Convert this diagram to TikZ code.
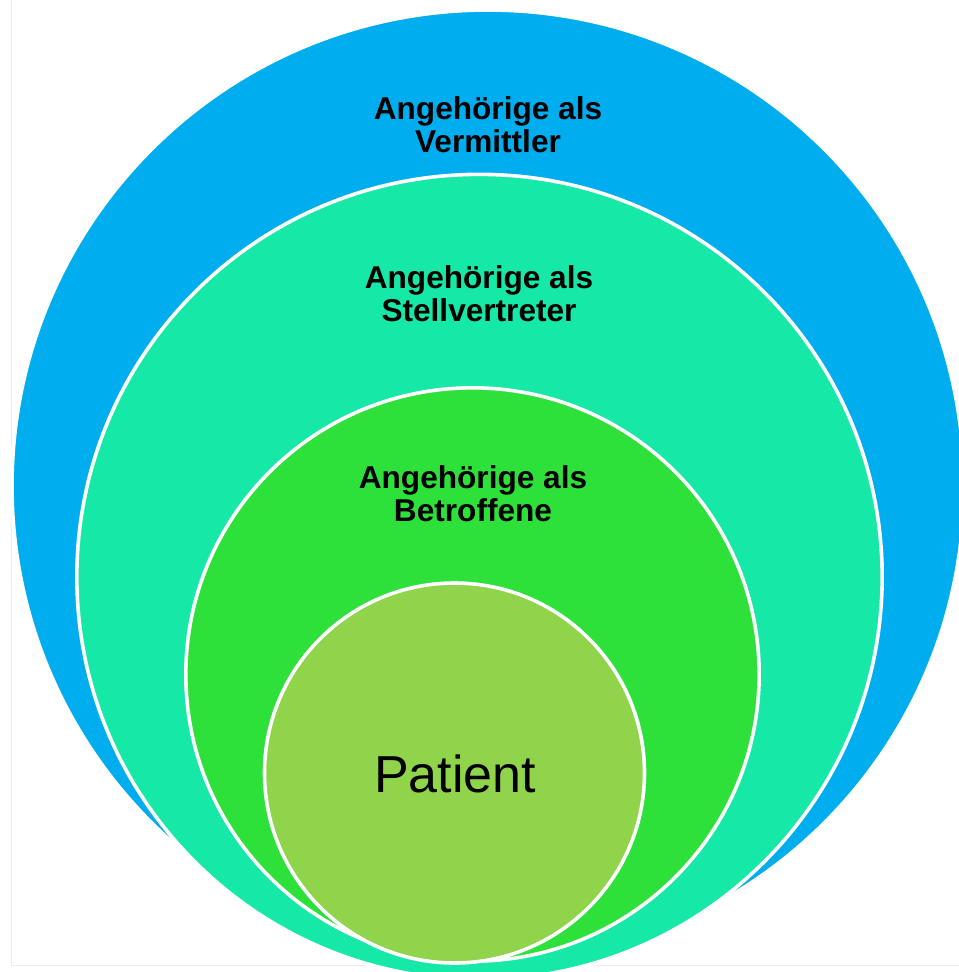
\documentclass[tikz,border=0pt]{standalone}
\usepackage{fontspec}
\setmainfont{Liberation Sans}
\usepackage{xcolor}
\definecolor{cblue}{RGB}{0,174,239}
\definecolor{cteal}{RGB}{22,232,168}
\definecolor{cgreen}{RGB}{46,224,58}
\definecolor{cpat}{RGB}{143,212,74}

\begin{document}
\begin{tikzpicture}[x=0.75pt,y=-0.75pt,
			ring/.style={circle, fill=#1, draw=white, line width=2.7pt, inner sep=0pt, outer sep=0pt},
			ringlab/.style={font=\fontsize{23.7}{24.75}\selectfont\bfseries, align=center, text=black, inner sep=0pt},
			patlab/.style={font=\fontsize{39}{45}\selectfont, text=black, inner sep=0pt}
				]
			\clip (0,0) rectangle (959,972);
			\fill[white] (0,0) rectangle (959,972);
			\draw[black!7] (11,0) -- (11,965) -- (959,965);

			%rings, outermost first
			\node[ring=cblue, minimum size=714pt] at (488,486) (rver) {};
			\node[ring=cteal, minimum size=604pt] at (479.5,577) (rstv) {};
			\node[ring=cgreen, minimum size=430pt] at (472.5,674.5) (rbet) {};
			\node[ring=cpat, minimum size=285pt] at (454.5,773) (rpat) {};

			%labels
			\node[ringlab] at (488,125) (ver) {Angehörige als\\Vermittler};
			\node[ringlab] at (479,293.5) (stv) {Angehörige als\\Stellvertreter};
			\node[ringlab] at (473,493.5) (bet) {Angehörige als\\Betroffene};
			\node[patlab] at (455,773.5) (pat) {Patient};
	\end{tikzpicture}
\end{document}
